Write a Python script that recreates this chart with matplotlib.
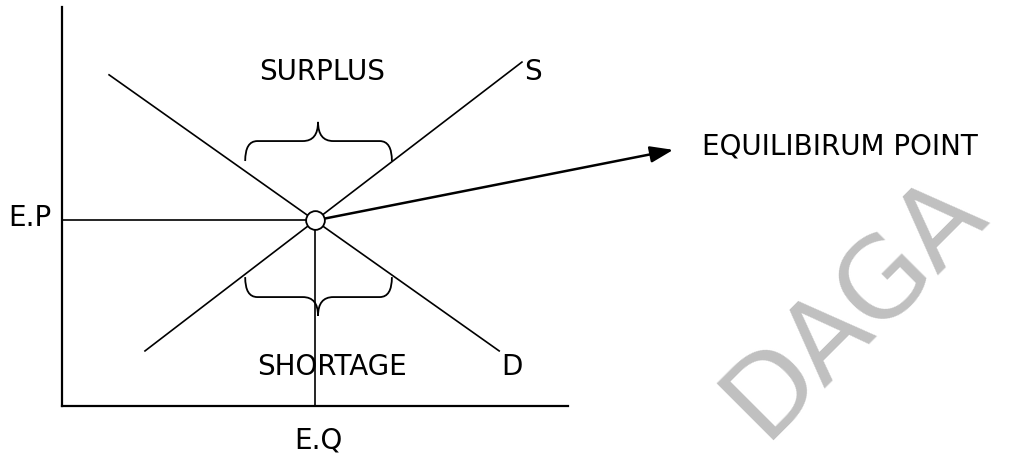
import matplotlib.pyplot as plt
from matplotlib.path import Path
from matplotlib.patches import PathPatch

# demand / supply curves (quantity, price)
demand_q = [0.93, 8.64]
demand_p = [8.30, 1.38]
supply_q = [1.64, 9.09]
supply_p = [1.38, 8.62]

# equilibrium
eq_q = 5.0
eq_p = 4.65

# braces: left x, right x, middle x, tip y, bar y, point y
surplus_brace = [3.62, 6.52, 5.06, 6.14, 6.64, 7.12]
shortage_brace = [3.62, 6.52, 5.06, 3.23, 2.73, 2.26]

labels = ["SURPLUS", "SHORTAGE", "S", "D", "E.P", "E.Q"]
label_q = [5.14, 5.34, 9.31, 8.89, -0.63, 5.06]
label_p = [8.40, 1.00, 8.40, 1.00, 4.74, -0.85]

arrow_tip = (12.08, 6.42)
arrow_text = "EQUILIBIRUM POINT"
watermark = "DAGA"


def brace(ax, x0, x1, xm, y_tip, y_bar, y_pt, r=0.24, rm=0.3):
    verts = [(x0, y_tip), (x0, y_bar), (x0 + r, y_bar),
             (xm - rm, y_bar), (xm, y_bar), (xm, y_pt),
             (xm, y_pt), (xm, y_bar), (xm + rm, y_bar),
             (x1 - r, y_bar), (x1, y_bar), (x1, y_tip)]
    codes = [Path.MOVETO, Path.CURVE3, Path.CURVE3,
             Path.LINETO, Path.CURVE3, Path.CURVE3,
             Path.MOVETO, Path.CURVE3, Path.CURVE3,
             Path.LINETO, Path.CURVE3, Path.CURVE3]
    ax.add_patch(PathPatch(Path(verts, codes), fill=False, lw=1.3,
                           edgecolor="black", clip_on=False))


fig = plt.figure(figsize=(10.29, 4.6), dpi=100)
fig.text(0.83, 0.335, watermark, rotation=45, fontsize=80,
         color="#c0c0c0", ha="center", va="center", zorder=0)

ax = fig.add_axes([62 / 1029, 53 / 460, 506 / 1029, 399 / 460])
ax.set_xlim(0, 10)
ax.set_ylim(0, 10)
ax.patch.set_alpha(0)
for side in ["top", "right"]:
    ax.spines[side].set_visible(False)
for side in ["left", "bottom"]:
    ax.spines[side].set_linewidth(1.6)
ax.set_xticks([])
ax.set_yticks([])

ax.plot(demand_q, demand_p, color="black", lw=1.2)
ax.plot(supply_q, supply_p, color="black", lw=1.2)
ax.plot([0, eq_q], [eq_p, eq_p], color="black", lw=1.2)
ax.plot([eq_q, eq_q], [0, eq_p], color="black", lw=1.2)

brace(ax, *surplus_brace)
brace(ax, *shortage_brace)

ax.annotate("", xy=arrow_tip, xytext=(eq_q, eq_p), annotation_clip=False,
            arrowprops=dict(arrowstyle="-|>,head_length=0.7,head_width=0.25",
                            mutation_scale=20, lw=1.8, color="black",
                            shrinkA=0, shrinkB=0))
ax.plot(eq_q, eq_p, "o", ms=13.5, mfc="white", mec="black", mew=1.3,
        zorder=5, clip_on=False)

for txt, q, p in zip(labels, label_q, label_p):
    ax.text(q, p, txt, fontsize=20, ha="center", va="center")
ax.text(12.65, 6.54, arrow_text, fontsize=20, ha="left", va="center")

fig.savefig("out.png", dpi=100)
